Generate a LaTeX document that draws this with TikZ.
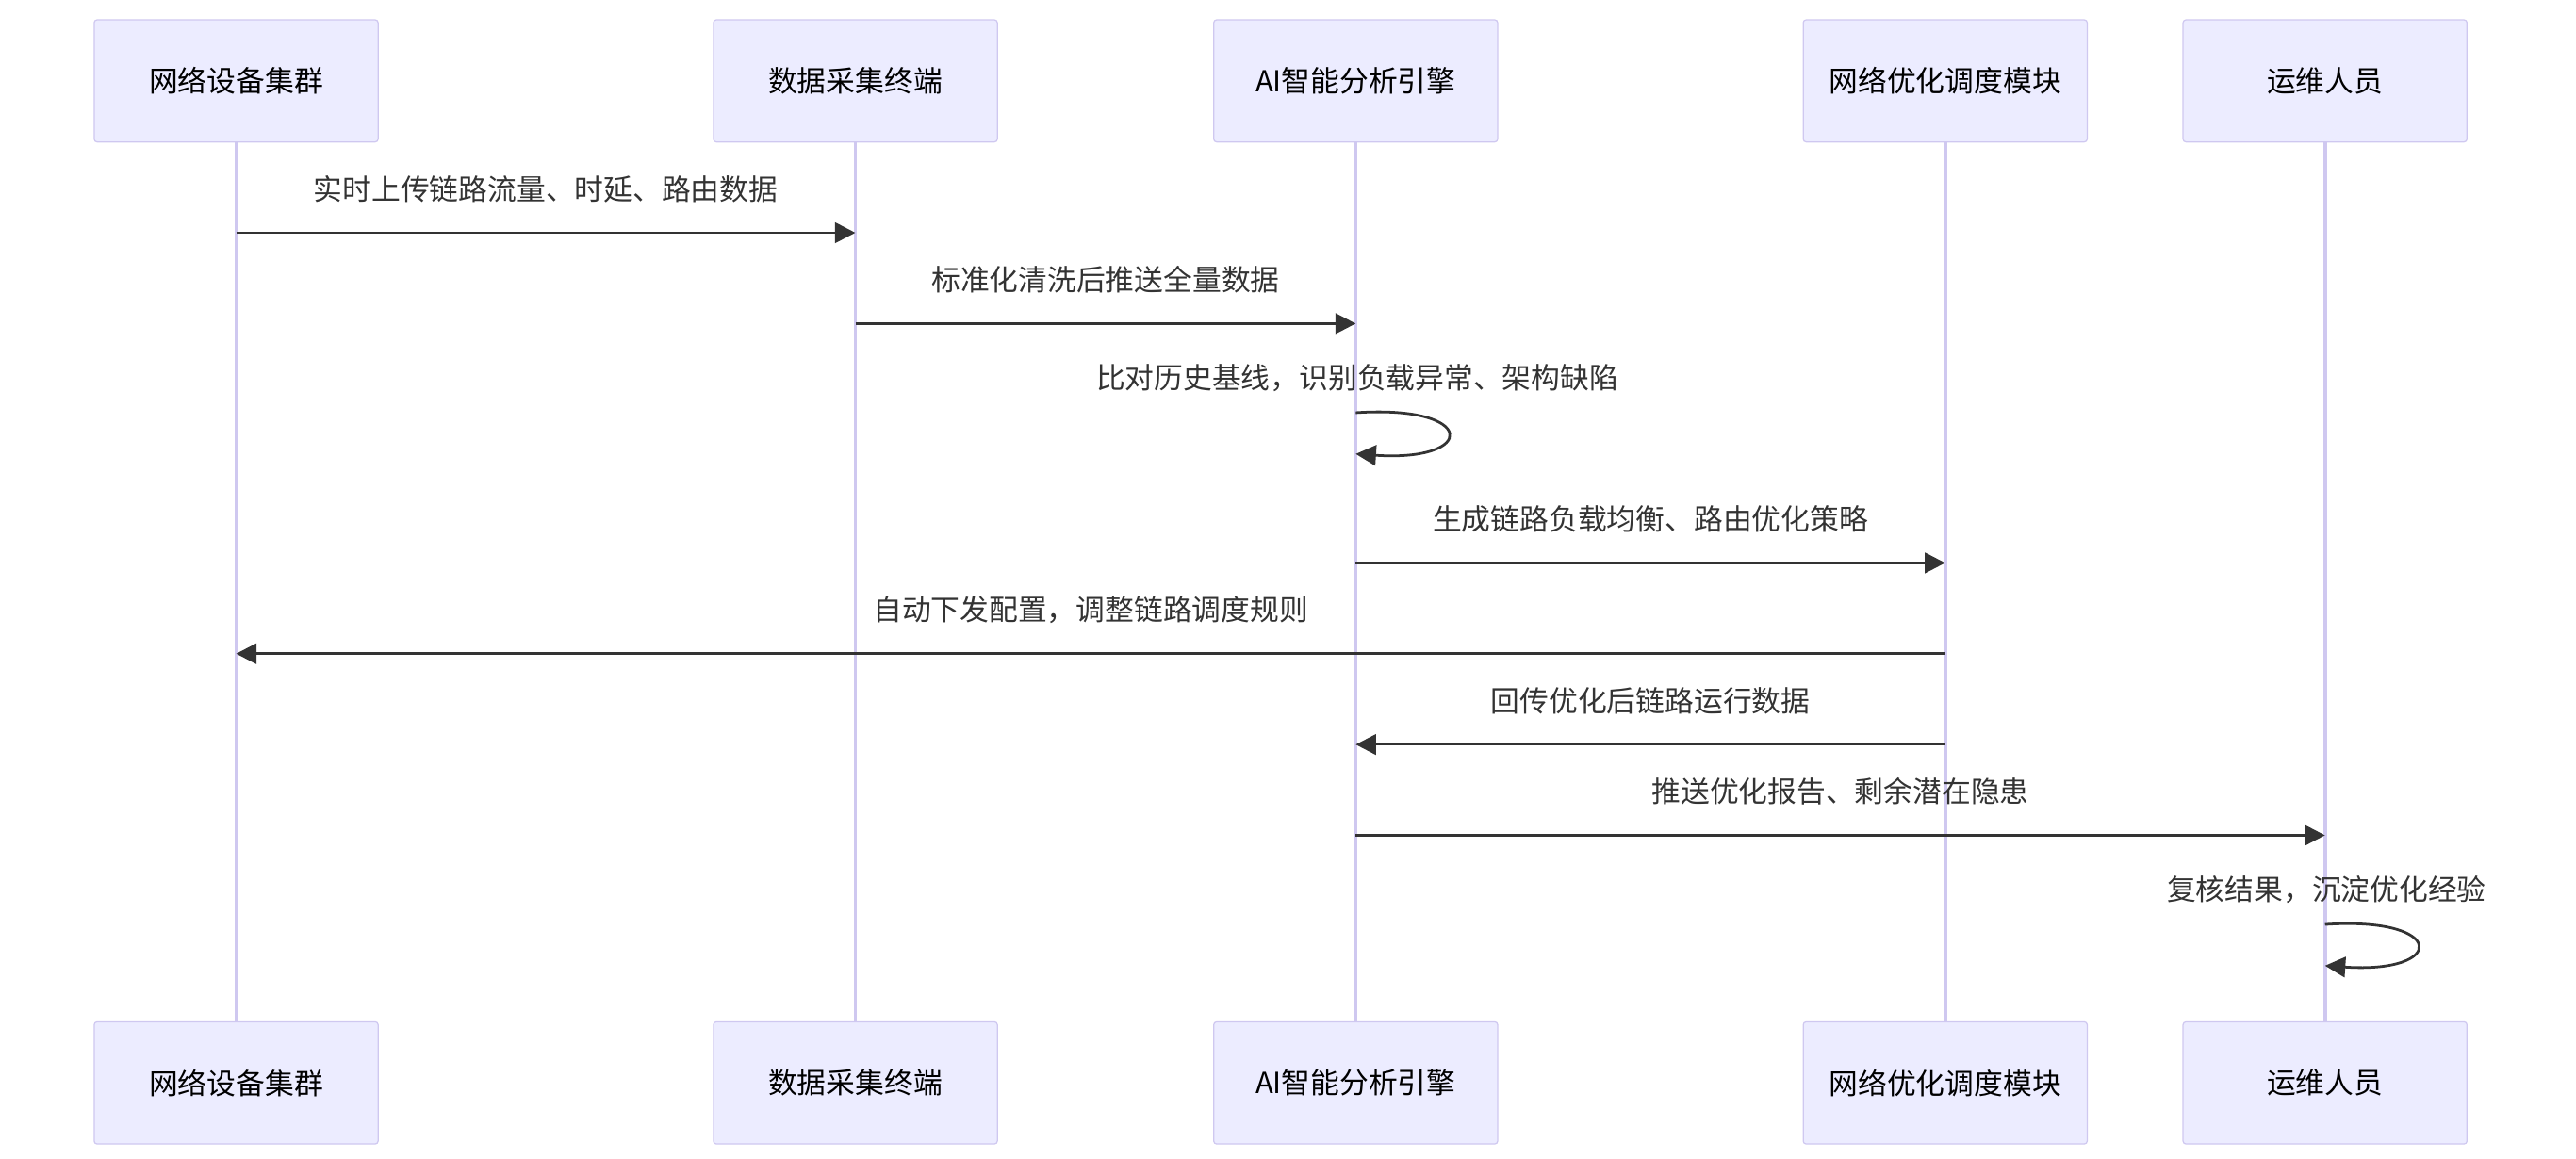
\documentclass[tikz,border=0pt]{standalone}
\usepackage{fontspec}
\setmainfont{Noto Sans CJK SC}
\usetikzlibrary{arrows.meta,positioning}
\definecolor{actfill}{HTML}{ECECFF}
\definecolor{actline}{HTML}{CFC8F0}
\definecolor{msgline}{HTML}{333333}
\tikzset{
  actor/.style={draw=actline,fill=actfill,minimum width=3.44cm,minimum height=1.48cm,font=\fontsize{10pt}{12pt}\selectfont,rounded corners=1pt},
  life/.style={draw=actline,line width=1.2pt},
  msg/.style={draw=msgline,line width=0.9pt,-{Triangle[length=7pt,width=7pt]}},
  lbl/.style={font=\fontsize{10pt}{12pt}\selectfont,text=msgline,inner sep=1pt}
}
\begin{document}
\begin{tikzpicture}[x=0.02cm,y=-0.02cm]
  \useasboundingbox (0,0) rectangle (1560,702);

  % actors, top and bottom
  \foreach \n/\x/\t in {a/143/网络设备集群,b/518/数据采集终端,c/821/AI智能分析引擎,d/1178/网络优化调度模块,e/1408/运维人员}{
    \node[actor] (\n top) at (\x,49) {\t};
    \node[actor] (\n bot) at (\x,656) {\t};
    \draw[life] (\n top) -- (\n bot);
  }

  % messages
  \coordinate (a1) at (143,141); \coordinate (b1) at (518,141);
  \draw[msg] (a1) -- (b1) node[lbl,midway,above=9pt] {实时上传链路流量、时延、路由数据};

  \coordinate (b2) at (518,196); \coordinate (c2) at (821,196);
  \draw[msg] (b2) -- (c2) node[lbl,midway,above=9pt] {标准化清洗后推送全量数据};

  \coordinate (c3) at (821,250); \coordinate (c3e) at (821,275);
  \node[lbl] (self1) at (822,229) {比对历史基线，识别负载异常、架构缺陷};
  \draw[msg] (c3) .. controls (895,245) and (895,280) .. (c3e);

  \coordinate (c4) at (821,341); \coordinate (d4) at (1178,341);
  \draw[msg] (c4) -- (d4) node[lbl,midway,above=9pt] {生成链路负载均衡、路由优化策略};

  \coordinate (d5) at (1178,396); \coordinate (a5) at (143,396);
  \draw[msg] (d5) -- (a5) node[lbl,midway,above=9pt] {自动下发配置，调整链路调度规则};

  \coordinate (d6) at (1178,451); \coordinate (c6) at (821,451);
  \draw[msg] (d6) -- (c6) node[lbl,midway,above=9pt] {回传优化后链路运行数据};

  \coordinate (c7) at (821,506); \coordinate (e7) at (1408,506);
  \draw[msg] (c7) -- (e7) node[lbl,midway,above=9pt] {推送优化报告、剩余潜在隐患};

  \coordinate (e8) at (1408,560); \coordinate (e8e) at (1408,585);
  \node[lbl] (self2) at (1409,539) {复核结果，沉淀优化经验};
  \draw[msg] (e8) .. controls (1482,555) and (1482,590) .. (e8e);
\end{tikzpicture}
\end{document}
